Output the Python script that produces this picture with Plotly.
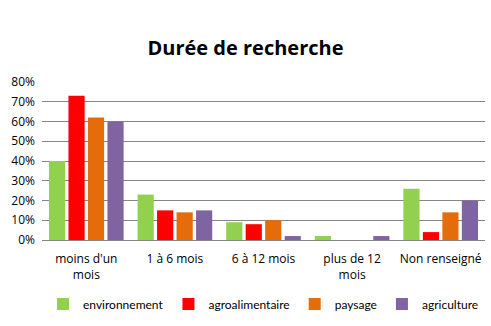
import plotly.graph_objects as go

categories = ["moins d'un<br>mois", "1 à 6 mois", "6 à 12 mois", "plus de 12<br>mois", "Non renseigné"]
series_names = ["environnement", "agroalimentaire", "paysage", "agriculture"]
environnement = [0.40, 0.23, 0.09, 0.02, 0.26]
agroalimentaire = [0.73, 0.15, 0.08, 0.0, 0.04]
paysage = [0.62, 0.14, 0.10, 0.0, 0.14]
agriculture = [0.60, 0.15, 0.02, 0.02, 0.20]
colors = ["#92D050", "#FF0000", "#E46C0A", "#8064A2"]
y_ticks = [0, 0.1, 0.2, 0.3, 0.4, 0.5, 0.6, 0.7, 0.8]

font_family = "Open Sans, sans-serif"

fig = go.Figure()
for name, vals, c in zip(series_names, [environnement, agroalimentaire, paysage, agriculture], colors):
    fig.add_trace(go.Bar(name=name, x=categories, y=vals, marker_color=c, marker_line_width=0))

fig.update_layout(
    width=491, height=326,
    paper_bgcolor="white", plot_bgcolor="white",
    margin=dict(l=42, r=6, t=82, b=86),
    title=dict(text="<b>Durée de recherche</b>", x=0.5, xanchor="center", y=1 - 48 / 326, yanchor="middle",
               font=dict(family=font_family, size=20, color="black")),
    barmode="group", bargap=0.12, bargroupgap=0.17,
    font=dict(family=font_family, size=12, color="black"),
    legend=dict(orientation="h", x=0.5, xanchor="center", y=-0.405, yanchor="middle",
                font=dict(family="Lato, sans-serif", size=12), itemwidth=30, tracegroupgap=0),
    xaxis=dict(showline=True, linecolor="#868686", linewidth=1, ticks="", tickfont=dict(size=12),
               ticklabelstandoff=8),
    yaxis=dict(range=[0, 0.8], tickvals=y_ticks, tickformat=".0%", showgrid=True, gridcolor="#868686",
               gridwidth=1, zeroline=False, ticks="", ticklabelstandoff=6, tickfont=dict(size=12)),
)

fig.write_html("out.html")
